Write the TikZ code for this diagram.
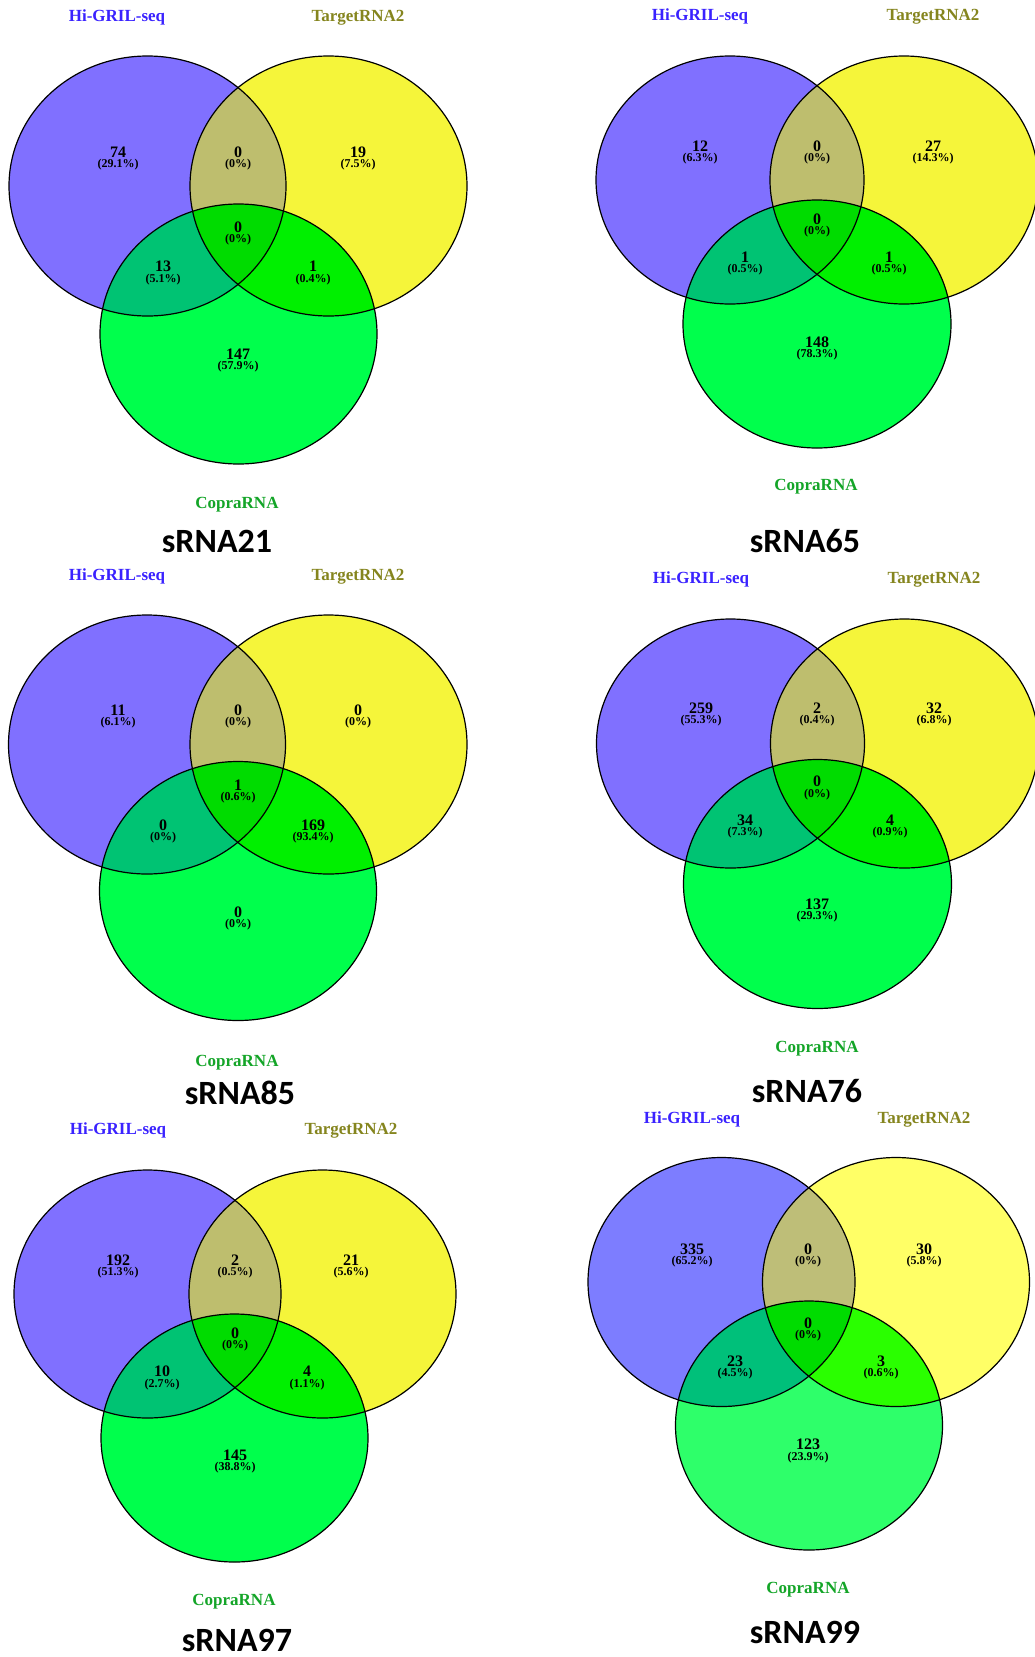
\documentclass[tikz,border=0pt]{standalone}
\usepackage{fontspec}
\setmainfont{Liberation Serif}
\newfontfamily\capfont{Carlito}
\definecolor{cA1}{HTML}{8070FF}
\definecolor{cB1}{HTML}{F5F53A}
\definecolor{cC1}{HTML}{00FF4C}
\definecolor{cAB1}{HTML}{BEBE6E}
\definecolor{cAC1}{HTML}{00C373}
\definecolor{cBC1}{HTML}{00F000}
\definecolor{cABC1}{HTML}{00DC00}
\definecolor{cA2}{HTML}{7D7DFF}
\definecolor{cB2}{HTML}{FFFF66}
\definecolor{cC2}{HTML}{2EFF6A}
\definecolor{cAB2}{HTML}{BEBE78}
\definecolor{cAC2}{HTML}{00C07A}
\definecolor{cBC2}{HTML}{2AFF00}
\definecolor{cABC2}{HTML}{00DC00}
\definecolor{labA}{HTML}{3A22FF}
\definecolor{labB}{HTML}{85851E}
\definecolor{labC}{HTML}{14A528}
\tikzset{
  vennline/.style={draw=black, line width=1.2pt},
  num/.style={font=\fontsize{16}{16}\selectfont\bfseries, inner sep=0pt},
  pct/.style={font=\fontsize{12}{12}\selectfont\bfseries, inner sep=0pt},
  lblA/.style={text=labA, anchor=base, inner sep=0pt, font=\fontsize{17}{17}\selectfont\bfseries},
  lblB/.style={text=labB, anchor=base, inner sep=0pt, font=\fontsize{17}{17}\selectfont\bfseries},
  lblC/.style={text=labC, anchor=base, inner sep=0pt, font=\fontsize{17}{17}\selectfont\bfseries},
  captxt/.style={anchor=base, inner sep=0pt, font=\capfont\fontsize{34}{34}\selectfont\bfseries}
}
% #1 Ax, #2 Ay (=By), #3 Bx, #4 Cx, #5 Cy, #6 rx, #7 ry, #8 palette
\newcommand\vshapes[8]{%
  \fill[cA#8] (#1,#2) ellipse [x radius=#6pt, y radius=#7pt];
  \fill[cB#8] (#3,#2) ellipse [x radius=#6pt, y radius=#7pt];
  \fill[cC#8] (#4,#5) ellipse [x radius=#6pt, y radius=#7pt];
  \begin{scope}
    \clip (#1,#2) ellipse [x radius=#6pt, y radius=#7pt];
    \fill[cAB#8] (#3,#2) ellipse [x radius=#6pt, y radius=#7pt];
    \fill[cAC#8] (#4,#5) ellipse [x radius=#6pt, y radius=#7pt];
  \end{scope}
  \begin{scope}
    \clip (#3,#2) ellipse [x radius=#6pt, y radius=#7pt];
    \fill[cBC#8] (#4,#5) ellipse [x radius=#6pt, y radius=#7pt];
  \end{scope}
  \begin{scope}
    \clip (#1,#2) ellipse [x radius=#6pt, y radius=#7pt];
    \clip (#3,#2) ellipse [x radius=#6pt, y radius=#7pt];
    \fill[cABC#8] (#4,#5) ellipse [x radius=#6pt, y radius=#7pt];
  \end{scope}
  \draw[vennline] (#1,#2) ellipse [x radius=#6pt, y radius=#7pt];
  \draw[vennline] (#3,#2) ellipse [x radius=#6pt, y radius=#7pt];
  \draw[vennline] (#4,#5) ellipse [x radius=#6pt, y radius=#7pt];
}
% #1 name, #2 x, #3 y, #4 number, #5 percent
\newcommand\vnum[5]{%
  \node[num] (#1n) at (#2,#3) {#4};
  \node[pct] (#1p) at (#2,#3+13) {#5};
}
\begin{document}
\begin{tikzpicture}[x=1pt,y=-1pt]
\useasboundingbox (0,0) rectangle (1034,1657);
\fill[white] (0,0) rectangle (1034,1657);

% ---------- Panel 1: sRNA21 ----------
\vshapes{147.5}{186}{328.5}{238.5}{334}{138.5}{130}{1}
\node[lblA] (p1A) at (117,21.7) {Hi-GRIL-seq};
\node[lblB] (p1B) at (358,21.7) {TargetRNA2};
\node[lblC] (p1C) at (237,508.7) {CopraRNA};
\node[captxt] (p1t) at (217,552) {sRNA21};
\vnum{p1a}{118}{152}{74}{(29.1\%)}
\vnum{p1ab}{238}{152}{0}{(0\%)}
\vnum{p1b}{358}{152}{19}{(7.5\%)}
\vnum{p1abc}{238}{227}{0}{(0\%)}
\vnum{p1ac}{163}{266.5}{13}{(5.1\%)}
\vnum{p1bc}{313}{266.5}{1}{(0.4\%)}
\vnum{p1c}{238}{354}{147}{(57.9\%)}

% ---------- Panel 2: sRNA65 ----------
\vshapes{730}{180}{904}{817}{324}{134}{124}{1}
\node[lblA] (p2A) at (700,20.7) {Hi-GRIL-seq};
\node[lblB] (p2B) at (933,20.7) {TargetRNA2};
\node[lblC] (p2C) at (816,490.7) {CopraRNA};
\node[captxt] (p2t) at (805,552) {sRNA65};
\vnum{p2a}{700}{146}{12}{(6.3\%)}
\vnum{p2ab}{817}{146}{0}{(0\%)}
\vnum{p2b}{933}{146}{27}{(14.3\%)}
\vnum{p2abc}{817}{219}{0}{(0\%)}
\vnum{p2ac}{745}{257}{1}{(0.5\%)}
\vnum{p2bc}{889}{257}{1}{(0.5\%)}
\vnum{p2c}{817}{342}{148}{(78.3\%)}

% ---------- Panel 3: sRNA85 ----------
\vshapes{147}{744.5}{328.5}{238}{891}{138.5}{129.5}{1}
\node[lblA] (p3A) at (117,580.2) {Hi-GRIL-seq};
\node[lblB] (p3B) at (358,580.2) {TargetRNA2};
\node[lblC] (p3C) at (237,1066.2) {CopraRNA};
\node[captxt] (p3t) at (240,1104) {sRNA85};
\vnum{p3a}{118}{710}{11}{(6.1\%)}
\vnum{p3ab}{238}{710}{0}{(0\%)}
\vnum{p3b}{358}{710}{0}{(0\%)}
\vnum{p3abc}{238}{785}{1}{(0.6\%)}
\vnum{p3ac}{163}{825}{0}{(0\%)}
\vnum{p3bc}{313}{825}{169}{(93.4\%)}
\vnum{p3c}{238}{912}{0}{(0\%)}

% ---------- Panel 4: sRNA76 ----------
\vshapes{730.5}{743.5}{904.5}{817.5}{884}{134}{124.5}{1}
\node[lblA] (p4A) at (701,583.7) {Hi-GRIL-seq};
\node[lblB] (p4B) at (934,583.7) {TargetRNA2};
\node[lblC] (p4C) at (817,1052.7) {CopraRNA};
\node[captxt] (p4t) at (807,1102) {sRNA76};
\vnum{p4a}{701}{708}{259}{(55.3\%)}
\vnum{p4ab}{817}{708}{2}{(0.4\%)}
\vnum{p4b}{934}{708}{32}{(6.8\%)}
\vnum{p4abc}{817}{781.5}{0}{(0\%)}
\vnum{p4ac}{745}{820}{34}{(7.3\%)}
\vnum{p4bc}{890}{820}{4}{(0.9\%)}
\vnum{p4c}{817}{904}{137}{(29.3\%)}

% ---------- Panel 5: sRNA97 ----------
\vshapes{147.5}{1294}{322.5}{234.5}{1438}{133.5}{124}{1}
\node[lblA] (p5A) at (118,1134.7) {Hi-GRIL-seq};
\node[lblB] (p5B) at (351,1134.7) {TargetRNA2};
\node[lblC] (p5C) at (234,1605) {CopraRNA};
\node[captxt] (p5t) at (237,1651) {sRNA97};
\vnum{p5a}{118}{1260}{192}{(51.3\%)}
\vnum{p5ab}{235}{1260}{2}{(0.5\%)}
\vnum{p5b}{351}{1260}{21}{(5.6\%)}
\vnum{p5abc}{235}{1333}{0}{(0\%)}
\vnum{p5ac}{162}{1371.6}{10}{(2.7\%)}
\vnum{p5bc}{307}{1371.6}{4}{(1.1\%)}
\vnum{p5c}{235}{1455}{145}{(38.8\%)}

% ---------- Panel 6: sRNA99 ----------
\vshapes{721.5}{1282}{896}{809}{1425.5}{133.5}{124.5}{2}
\node[lblA] (p6A) at (692,1123.7) {Hi-GRIL-seq};
\node[lblB] (p6B) at (924,1123.7) {TargetRNA2};
\node[lblC] (p6C) at (808,1593.7) {CopraRNA};
\node[captxt] (p6t) at (805,1643.5) {sRNA99};
\vnum{p6a}{692}{1249}{335}{(65.2\%)}
\vnum{p6ab}{808}{1249}{0}{(0\%)}
\vnum{p6b}{924}{1249}{30}{(5.8\%)}
\vnum{p6abc}{808}{1323}{0}{(0\%)}
\vnum{p6ac}{735}{1361}{23}{(4.5\%)}
\vnum{p6bc}{881}{1361}{3}{(0.6\%)}
\vnum{p6c}{808}{1444.6}{123}{(23.9\%)}
\end{tikzpicture}
\end{document}
